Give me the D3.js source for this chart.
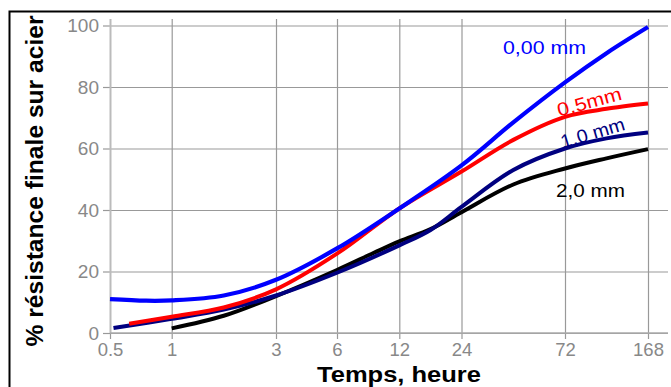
<!DOCTYPE html>
<html><head><meta charset="utf-8">
<script src="https://cdn.jsdelivr.net/npm/d3@7"></script>
<style>body{margin:0;background:#fff}svg{display:block}text{font-family:"Liberation Sans",Arial,sans-serif}</style>
</head><body><svg id="c" width="671" height="387"></svg>
<script>
// ---- data ----
const xTicks = [0.5, 1, 3, 6, 12, 24, 72, 168];
const xTickLabels = ["0.5", "1", "3", "6", "12", "24", "72", "168"];
const yTicks = [0, 20, 40, 60, 80, 100];
const seriesNames = ["0,00 mm", "0,5mm", "1,0 mm", "2,0 mm"];
const tBlue  = [0.5, 0.75, 1, 1.73, 3, 6, 12, 24, 41.6, 72, 110, 168];
const vBlue  = [11, 10.5, 10.6, 12.2, 17.3, 27.5, 40.5, 54.5, 68.5, 81.5, 91, 99.5];
const tRed   = [0.62, 1, 1.73, 3, 6, 12, 24, 41.6, 72, 110, 168];
const vRed   = [3, 5.3, 8.3, 14.2, 25.8, 40.5, 52.5, 62.8, 70.3, 72.9, 74.6];
const tNavy  = [0.52, 1, 1.73, 3, 6, 12, 17, 24, 41.6, 72, 110, 168];
const vNavy  = [1.6, 4.6, 7.6, 12.2, 19.6, 28.5, 33.5, 41, 53, 60, 63.3, 65.2];
const tBlack = [1, 1.73, 3, 6, 9, 12, 17, 24, 41.6, 72, 110, 168];
const vBlack = [1.5, 5.6, 12, 20.5, 26, 29.8, 33.8, 39.3, 48.3, 53.5, 56.8, 59.8];
const colors = ["#0000ff", "#ff0000", "#000080", "#000000"];

// ---- layout ----
const svg = d3.select("#c");
const xRange = [110, 171.7, 276, 337, 399.3, 461.5, 565, 648];
const x = d3.scaleLog().domain(xTicks).range(xRange);
const y = d3.scaleLinear().domain([0, 100]).range([333, 25.5]);

// frame
svg.append("rect").attr("x", 9.5).attr("y", 11.5).attr("width", 700).attr("height", 400)
  .attr("fill", "none").attr("stroke", "#000").attr("stroke-width", 2);

// horizontal grid + y ticks
const gy = svg.append("g").attr("transform", "translate(110,0)")
  .call(d3.axisLeft(y).tickValues(yTicks).tickSize(7).tickSizeOuter(0).tickPadding(4).tickFormat(d3.format("d")));
gy.select(".domain").remove();
gy.selectAll(".tick line").attr("stroke", "#999").attr("stroke-width", 1.2);
gy.selectAll(".tick").append("line").attr("x1", 0).attr("x2", 558).attr("stroke", "#999").attr("stroke-width", 1.2);
gy.selectAll(".tick text").attr("fill", "#888").attr("font-size", 19).attr("font-family", "Liberation Sans, Arial, sans-serif");

// vertical grid + x ticks
const gx = svg.append("g").attr("transform", "translate(0,333)")
  .call(d3.axisBottom(x).tickValues(xTicks).tickSize(6).tickSizeOuter(0).tickPadding(4)
    .tickFormat((d, i) => xTickLabels[i]));
gx.select(".domain").remove();
gx.selectAll(".tick line").attr("stroke", "#999").attr("stroke-width", 1.2);
gx.selectAll(".tick").append("line").attr("y1", 0).attr("y2", -314).attr("stroke", (d, i) => i === 0 ? "#bbb" : "#999").attr("stroke-width", (d, i) => i === 0 ? 2 : 1.2);
gx.selectAll(".tick text").attr("fill", "#888").attr("font-size", 18.5).attr("font-family", "Liberation Sans, Arial, sans-serif");
// bottom axis line
svg.append("line").attr("x1", 110).attr("x2", 668).attr("y1", y(0)).attr("y2", y(0)).attr("stroke", "#aaa").attr("stroke-width", 1.6);

// curves
const ts = [tBlue, tRed, tNavy, tBlack];
const vs = [vBlue, vRed, vNavy, vBlack];
const line = d3.line().x(d => x(d[0])).y(d => y(d[1])).curve(d3.curveCatmullRom.alpha(0.5));
[3, 2, 1, 0].forEach(k => {
  const pts = ts[k].map((t, i) => [t, vs[k][i]]);
  svg.append("path").attr("d", line(pts)).attr("fill", "none")
    .attr("stroke", colors[k]).attr("stroke-width", k === 0 ? 4.2 : 4).attr("stroke-linecap", "butt");
});

// series labels
const labels = [
  {i: 0, x: 544.5, y: 54, r: 0, w: 83},
  {i: 1, x: 591, y: 108, r: -15, w: 66},
  {i: 2, x: 594.5, y: 139, r: -16.5, w: 66},
  {i: 3, x: 590.5, y: 196.7, r: 0, w: 69}
];
labels.forEach(l => {
  svg.append("text").attr("transform", `translate(${l.x},${l.y}) rotate(${l.r})`)
    .attr("text-anchor", "middle").attr("font-size", 18.5).attr("fill", colors[l.i])
    .attr("textLength", l.w).attr("lengthAdjust", "spacingAndGlyphs")
    .text(seriesNames[l.i]);
});

// axis titles
svg.append("text").attr("x", 399).attr("y", 382).attr("text-anchor", "middle")
  .attr("font-size", 22).attr("font-weight", "bold").attr("fill", "#000")
  .attr("textLength", 164).attr("lengthAdjust", "spacingAndGlyphs").text("Temps, heure");
svg.append("text").attr("transform", "translate(43,181) rotate(-90)").attr("text-anchor", "middle")
  .attr("font-size", 23.5).attr("font-weight", "bold").attr("fill", "#000")
  .attr("textLength", 331).attr("lengthAdjust", "spacingAndGlyphs")
  .text("% résistance finale sur acier");
</script></body></html>
